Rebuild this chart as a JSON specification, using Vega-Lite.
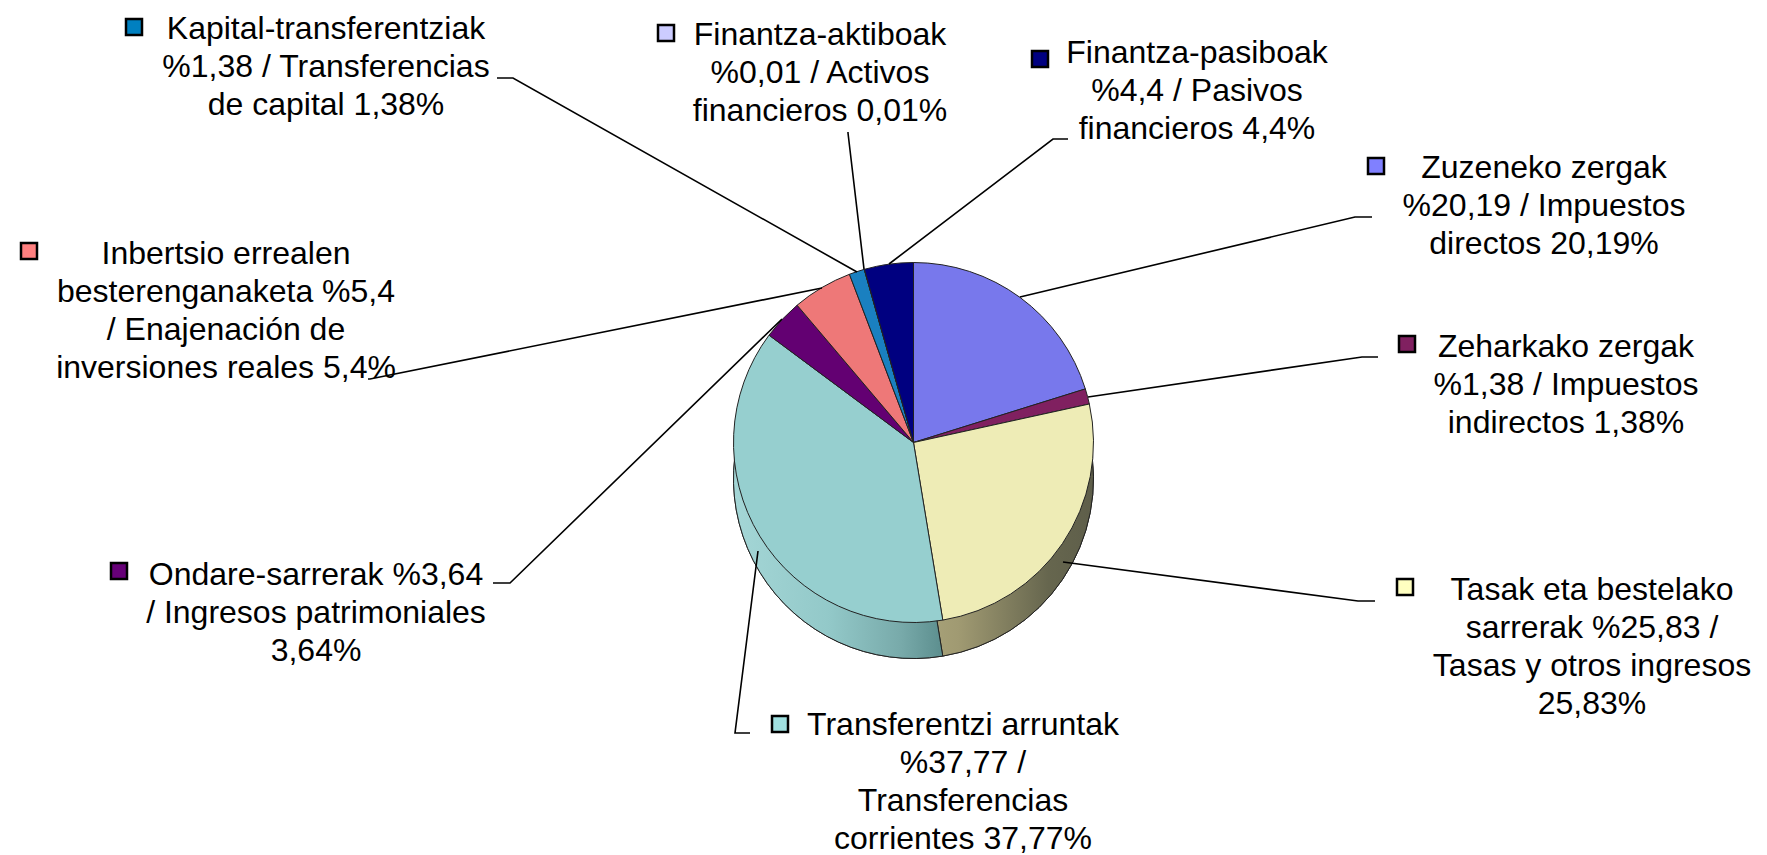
{
  "$schema": "https://vega.github.io/schema/vega-lite/v6.json",
  "width": 1767,
  "height": 855,
  "autosize": {"type": "fit", "contains": "padding"},
  "padding": 0,
  "background": "white",
  "config": {"view": {"stroke": null}},
  "data": {
    "values": [
      {"i": 0, "cat": "Zuzeneko zergak", "value": 20.19, "label": "Zuzeneko zergak\n%20,19 / Impuestos\ndirectos 20,19%"},
      {"i": 1, "cat": "Zeharkako zergak", "value": 1.38, "label": "Zeharkako zergak\n%1,38 / Impuestos\nindirectos 1,38%"},
      {"i": 2, "cat": "Tasak eta bestelako sarrerak", "value": 25.83, "label": "Tasak  eta bestelako\nsarrerak %25,83 /\nTasas y otros ingresos\n25,83%"},
      {"i": 3, "cat": "Transferentzi arruntak", "value": 37.77, "label": "Transferentzi arruntak\n%37,77 /\nTransferencias\ncorrientes 37,77%"},
      {"i": 4, "cat": "Ondare-sarrerak", "value": 3.64, "label": "Ondare-sarrerak %3,64\n/ Ingresos patrimoniales\n3,64%"},
      {"i": 5, "cat": "Inbertsio errealen besterenganaketa", "value": 5.4, "label": "Inbertsio errealen\nbesterenganaketa %5,4\n/ Enajenación de\ninversiones reales 5,4%"},
      {"i": 6, "cat": "Kapital-transferentziak", "value": 1.38, "label": "Kapital-transferentziak\n%1,38 / Transferencias\nde capital 1,38%"},
      {"i": 7, "cat": "Finantza-aktiboak", "value": 0.01, "label": "Finantza-aktiboak\n%0,01 / Activos\nfinancieros 0,01%"},
      {"i": 8, "cat": "Finantza-pasiboak", "value": 4.4, "label": "Finantza-pasiboak\n%4,4 / Pasivos\nfinancieros 4,4%"}
    ]
  },
  "layer": [
    {
      "mark": {"type": "arc", "outerRadius": 180, "xOffset": 30, "yOffset": 51, "stroke": "#222222", "strokeWidth": 1},
      "encoding": {
        "theta": {"field": "value", "type": "quantitative", "stack": true},
        "order": {"field": "i", "type": "quantitative", "sort": "ascending"},
        "color": {
          "field": "cat", "type": "nominal", "legend": null,
          "scale": {
            "domain": ["Zuzeneko zergak", "Zeharkako zergak", "Tasak eta bestelako sarrerak", "Transferentzi arruntak", "Ondare-sarrerak", "Inbertsio errealen besterenganaketa", "Kapital-transferentziak", "Finantza-aktiboak", "Finantza-pasiboak"],
            "range": ["#4c4c9c", "#501040", "#7d795b", "#80b5b5", "#40004a", "#a05050", "#105080", "#8888aa", "#000050"]
          }
        }
      }
    },
    {
      "transform": [
        {"stack": "value", "groupby": [], "sort": [{"field": "i", "order": "ascending"}], "as": ["s0", "s1"]},
        {"filter": {"field": "cat", "equal": "Tasak eta bestelako sarrerak"}}
      ],
      "mark": {
        "type": "arc", "outerRadius": 180, "xOffset": 30, "yOffset": 51, "stroke": "#222222", "strokeWidth": 1,
        "color": {"gradient": "linear", "x1": 0, "y1": 0, "x2": 1, "y2": 0,
          "stops": [{"offset": 0, "color": "#aca67c"}, {"offset": 0.25, "color": "#a09a72"}, {"offset": 0.75, "color": "#66664e"}, {"offset": 1, "color": "#5e5e4a"}]}
      },
      "encoding": {
        "theta": {"field": "s0", "type": "quantitative", "scale": {"domain": [0, 100]}},
        "theta2": {"field": "s1"}
      }
    },
    {
      "transform": [
        {"stack": "value", "groupby": [], "sort": [{"field": "i", "order": "ascending"}], "as": ["s0", "s1"]},
        {"filter": {"field": "cat", "equal": "Transferentzi arruntak"}}
      ],
      "mark": {
        "type": "arc", "outerRadius": 180, "xOffset": 30, "yOffset": 51, "stroke": "#222222", "strokeWidth": 1,
        "color": {"gradient": "linear", "x1": 0, "y1": 0, "x2": 1, "y2": 0,
          "stops": [{"offset": 0, "color": "#a4d6d6"}, {"offset": 0.45, "color": "#93c9c9"}, {"offset": 0.8, "color": "#78aaaa"}, {"offset": 1, "color": "#5c8e8e"}]}
      },
      "encoding": {
        "theta": {"field": "s0", "type": "quantitative", "scale": {"domain": [0, 100]}},
        "theta2": {"field": "s1"}
      }
    },
    {
      "mark": {"type": "arc", "outerRadius": 180, "xOffset": 30, "yOffset": 15, "stroke": "#222222", "strokeWidth": 1},
      "encoding": {
        "theta": {"field": "value", "type": "quantitative", "stack": true},
        "order": {"field": "i", "type": "quantitative", "sort": "ascending"},
        "color": {
          "field": "cat", "type": "nominal", "legend": null,
          "scale": {
            "domain": ["Zuzeneko zergak", "Zeharkako zergak", "Tasak eta bestelako sarrerak", "Transferentzi arruntak", "Ondare-sarrerak", "Inbertsio errealen besterenganaketa", "Kapital-transferentziak", "Finantza-aktiboak", "Finantza-pasiboak"],
            "range": ["#7878ec", "#802060", "#eeecb6", "#96cfcf", "#630072", "#ee7878", "#1a80c0", "#c4c4f4", "#000080"]
          }
        }
      }
    },
    {
      "transform": [
        {"fold": ["cat", "i", "value"], "as": ["k", "v"]},
        {"window": [{"op": "row_number", "as": "n"}], "sort": [{"field": "i", "order": "ascending"}, {"field": "k", "order": "ascending"}]}
      ],
      "mark": {"type": "line", "color": "black", "strokeWidth": 1.6},
      "encoding": {
        "x": {
          "field": "n", "type": "quantitative", "axis": null,
          "scale": {
            "domain": [1,2,3,4,5,6,7,8,9,10,11,12,13,14,15,16,17,18,19,20,21,22,23,24,25,26,27],
            "range": [1372,1355,1020, 1378,1362,1088, 1375,1358,1063, 750,735,758, 493,510,782, 368,370,822, 497,513,857, 848,848,864, 1068,1053,889],
            "nice": false, "zero": false
          }
        },
        "y": {
          "field": "n", "type": "quantitative", "axis": null,
          "scale": {
            "domain": [1,2,3,4,5,6,7,8,9,10,11,12,13,14,15,16,17,18,19,20,21,22,23,24,25,26,27],
            "range": [217,217,297, 357,357,397, 601,601,562, 733,733,551, 583,583,319, 379,379,288, 78,78,272, 132,133,269, 139,139,264],
            "nice": false, "zero": false
          }
        },
        "detail": {"field": "cat", "type": "nominal"},
        "order": {"field": "n", "type": "quantitative"}
      }
    },
    {
      "mark": {"type": "point", "shape": "square", "filled": true, "size": 256, "stroke": "black", "strokeWidth": 2.5, "opacity": 1},
      "encoding": {
        "x": {
          "field": "i", "type": "quantitative", "axis": null,
          "scale": {"domain": [0,1,2,3,4,5,6,7,8], "range": [1376,1407,1405,780,119,29,134,666,1040], "nice": false, "zero": false}
        },
        "y": {
          "field": "i", "type": "quantitative", "axis": null,
          "scale": {"domain": [0,1,2,3,4,5,6,7,8], "range": [166,344,587,724,571,251,27,33,59], "nice": false, "zero": false}
        },
        "fill": {
          "field": "cat", "type": "nominal", "legend": null,
          "scale": {
            "domain": ["Zuzeneko zergak", "Zeharkako zergak", "Tasak eta bestelako sarrerak", "Transferentzi arruntak", "Ondare-sarrerak", "Inbertsio errealen besterenganaketa", "Kapital-transferentziak", "Finantza-aktiboak", "Finantza-pasiboak"],
            "range": ["#8080ff", "#802060", "#ffffc0", "#a0e0e0", "#660077", "#ff8080", "#0080c0", "#ccccff", "#000080"]
          }
        }
      }
    },
    {
      "mark": {"type": "text", "align": "center", "baseline": "alphabetic", "font": "Liberation Sans", "fontSize": 32, "lineHeight": 38, "lineBreak": "\n", "color": "black"},
      "encoding": {
        "x": {
          "field": "i", "type": "quantitative", "axis": null,
          "scale": {"domain": [0,1,2,3,4,5,6,7,8], "range": [1544,1566,1592,963,316,226,326,820,1197], "nice": false, "zero": false}
        },
        "y": {
          "field": "i", "type": "quantitative", "axis": null,
          "scale": {"domain": [0,1,2,3,4,5,6,7,8], "range": [178,357,600,735,585,264,39,45,63], "nice": false, "zero": false}
        },
        "text": {"field": "label", "type": "nominal"}
      }
    }
  ],
  "resolve": {"scale": {"x": "independent", "y": "independent", "color": "independent", "theta": "independent"}}
}
